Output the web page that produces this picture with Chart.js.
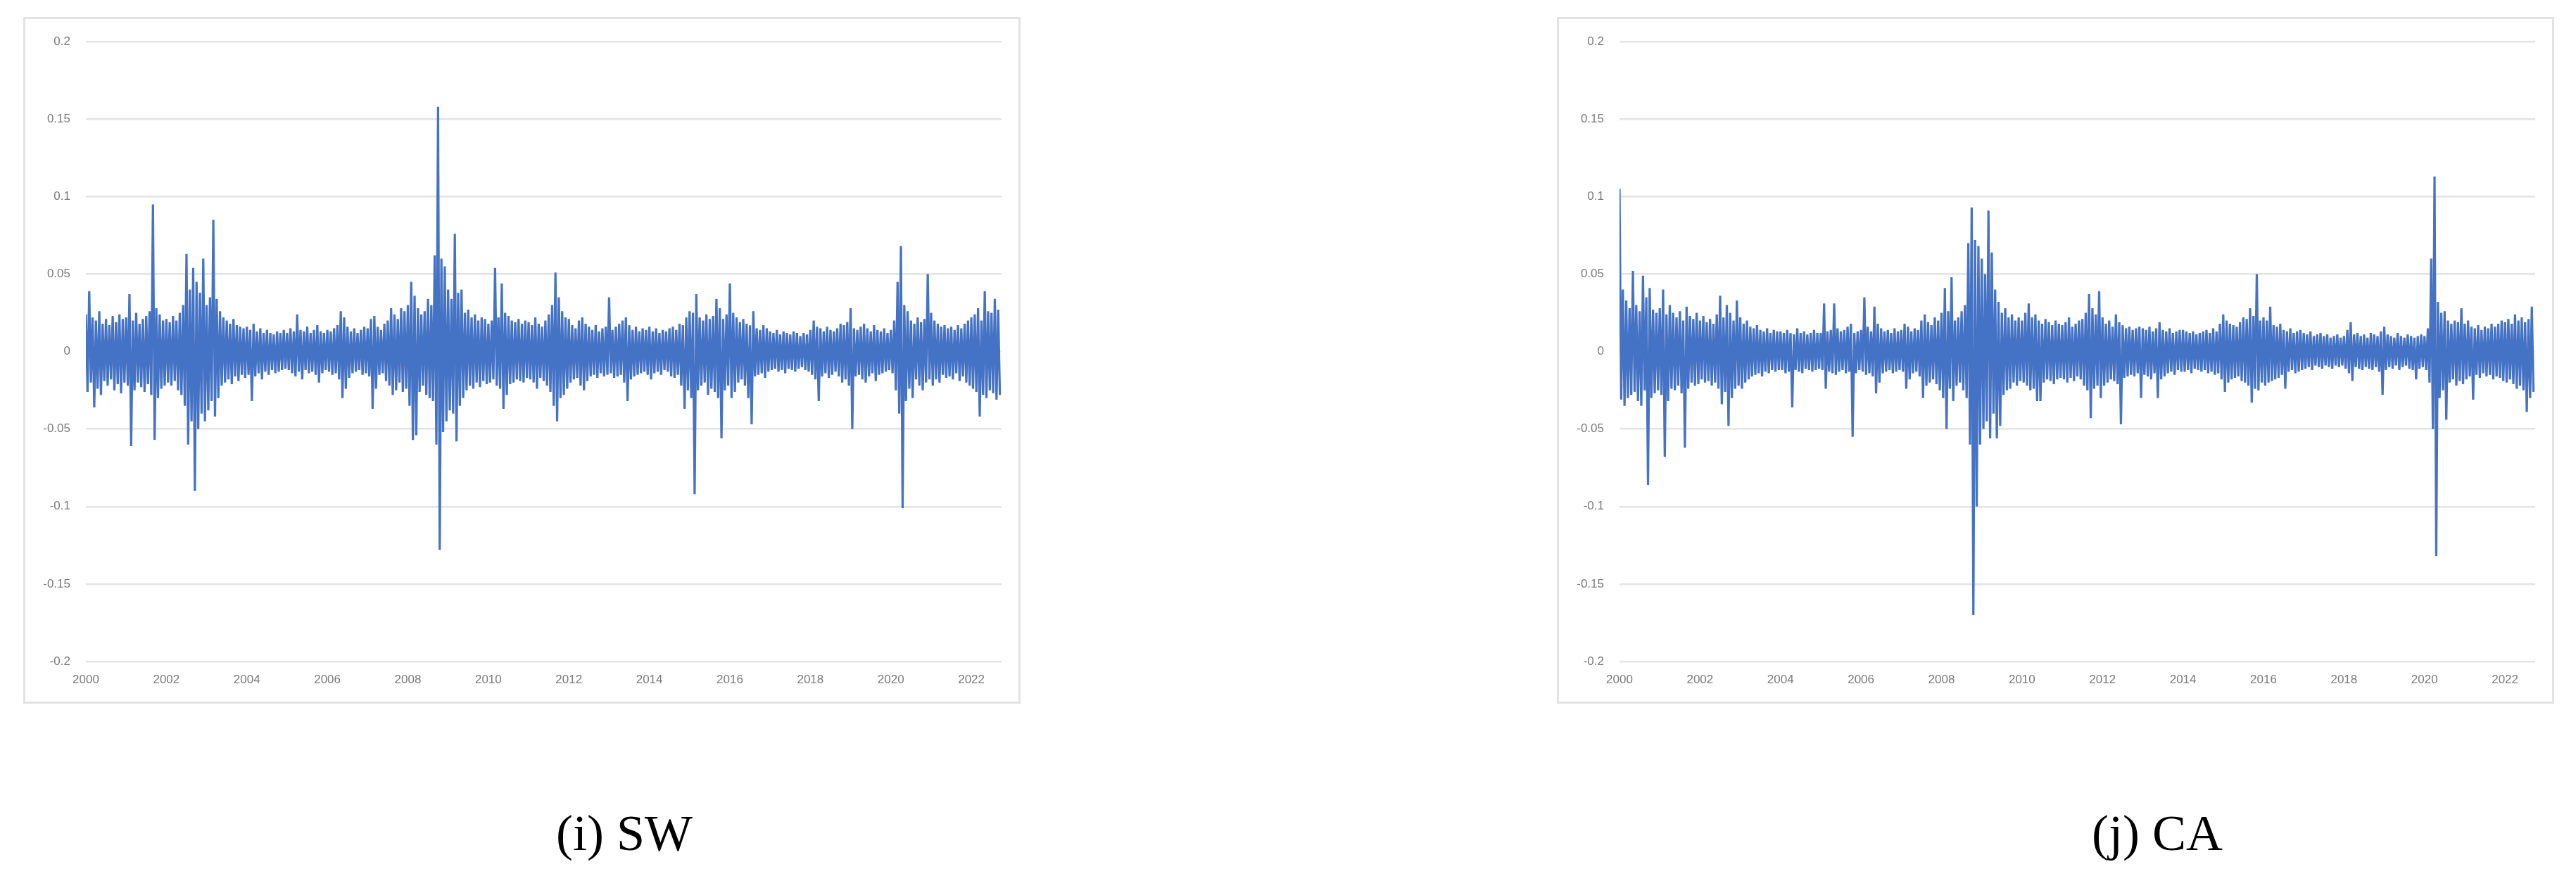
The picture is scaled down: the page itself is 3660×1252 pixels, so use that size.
<!DOCTYPE html>
<html>
<head>
<meta charset="utf-8">
<script src="https://cdn.jsdelivr.net/npm/chart.js"></script>
<style>
  body { margin: 0; background: #fff; width: 3660px; height: 1252px; position: relative; overflow: hidden; }
  .frame { position: absolute; top: 24px; width: 1417px; height: 976px; border: 3px solid #e3e3e3; box-sizing: border-box; background: #fff; }
  .caption { position: absolute; top: 1148px; width: 400px; text-align: center; font-family: "Liberation Serif", serif; font-size: 72px; line-height: 72px; color: #000; }
</style>
</head>
<body>
<div class="frame" style="left:33px"><canvas id="sw" width="1411" height="970"></canvas></div>
<div class="frame" style="left:2212px"><canvas id="ca" width="1411" height="970"></canvas></div>
<div class="caption" style="left:687px">(i) SW</div>
<div class="caption" style="left:2865px">(j) CA</div>
<script>
// monthly high / low of the daily series, Jan 2000 .. Sep 2022 (one row per year)
var swHigh = [
  0.024, 0.039, 0.022, 0.020, 0.026, 0.018, 0.021, 0.017, 0.023, 0.019, 0.024, 0.021,
  0.022, 0.037, 0.020, 0.025, 0.018, 0.021, 0.023, 0.026, 0.095, 0.028, 0.024, 0.020,
  0.021, 0.019, 0.023, 0.020, 0.025, 0.030, 0.063, 0.040, 0.054, 0.045, 0.038, 0.060,
  0.030, 0.035, 0.085, 0.034, 0.026, 0.022, 0.020, 0.018, 0.021, 0.017, 0.016, 0.015,
  0.016, 0.014, 0.018, 0.013, 0.015, 0.012, 0.014, 0.012, 0.011, 0.013, 0.012, 0.014,
  0.012, 0.015, 0.013, 0.024, 0.014, 0.013, 0.016, 0.012, 0.014, 0.017, 0.013, 0.012,
  0.014, 0.013, 0.015, 0.017, 0.026, 0.022, 0.016, 0.013, 0.015, 0.012, 0.014, 0.016,
  0.015, 0.021, 0.023, 0.016, 0.014, 0.018, 0.020, 0.028, 0.024, 0.021, 0.028, 0.026,
  0.030, 0.045, 0.036, 0.028, 0.024, 0.026, 0.034, 0.030, 0.062, 0.158, 0.060, 0.055,
  0.040, 0.034, 0.076, 0.038, 0.040, 0.025, 0.027, 0.022, 0.024, 0.020, 0.022, 0.021,
  0.018, 0.020, 0.054, 0.022, 0.044, 0.025, 0.023, 0.020, 0.019, 0.021, 0.018, 0.020,
  0.019, 0.017, 0.022, 0.018, 0.016, 0.020, 0.024, 0.030, 0.051, 0.035, 0.026, 0.022,
  0.021, 0.017, 0.015, 0.020, 0.022, 0.018, 0.016, 0.014, 0.017, 0.013, 0.015, 0.016,
  0.035, 0.014, 0.016, 0.018, 0.020, 0.022, 0.017, 0.014, 0.016, 0.013, 0.015, 0.014,
  0.016, 0.013, 0.015, 0.012, 0.014, 0.013, 0.015, 0.016, 0.014, 0.018, 0.017, 0.022,
  0.026, 0.025, 0.037, 0.022, 0.020, 0.024, 0.021, 0.023, 0.034, 0.028, 0.021, 0.024,
  0.044, 0.025, 0.022, 0.019, 0.021, 0.018, 0.017, 0.026, 0.015, 0.014, 0.017, 0.015,
  0.013, 0.012, 0.014, 0.011, 0.013, 0.012, 0.011, 0.013, 0.012, 0.010, 0.012, 0.011,
  0.014, 0.020, 0.016, 0.015, 0.013, 0.016, 0.014, 0.013, 0.015, 0.018, 0.017, 0.019,
  0.028, 0.015, 0.014, 0.016, 0.018, 0.015, 0.013, 0.017, 0.014, 0.013, 0.015, 0.012,
  0.014, 0.020, 0.045, 0.068, 0.030, 0.026, 0.020, 0.018, 0.022, 0.019, 0.021, 0.050,
  0.025, 0.020, 0.018, 0.016, 0.017, 0.015, 0.016, 0.014, 0.017, 0.015, 0.018, 0.020,
  0.022, 0.024, 0.028, 0.020, 0.039, 0.026, 0.025, 0.034, 0.027
];
var swLow = [
  -0.026, -0.020, -0.036, -0.024, -0.028, -0.019, -0.022, -0.018, -0.025, -0.021, -0.027, -0.020,
  -0.022, -0.061, -0.025, -0.020, -0.023, -0.026, -0.021, -0.028, -0.057, -0.030, -0.024, -0.022,
  -0.020, -0.022, -0.019, -0.025, -0.028, -0.035, -0.060, -0.045, -0.090, -0.050, -0.040, -0.045,
  -0.038, -0.032, -0.042, -0.030, -0.022, -0.020, -0.018, -0.021, -0.016, -0.019, -0.015, -0.017,
  -0.015, -0.032, -0.016, -0.014, -0.018, -0.013, -0.015, -0.012, -0.014, -0.013, -0.012, -0.011,
  -0.012, -0.014, -0.016, -0.013, -0.018, -0.012, -0.014, -0.013, -0.015, -0.020, -0.014, -0.012,
  -0.013, -0.015, -0.014, -0.018, -0.030, -0.024, -0.017, -0.014, -0.013, -0.012, -0.015, -0.014,
  -0.016, -0.037, -0.024, -0.015, -0.014, -0.019, -0.022, -0.028, -0.025, -0.020, -0.026, -0.024,
  -0.035, -0.057, -0.054, -0.026, -0.022, -0.028, -0.030, -0.032, -0.060, -0.128, -0.052, -0.045,
  -0.038, -0.040, -0.058, -0.035, -0.030, -0.025, -0.022, -0.024, -0.020, -0.023, -0.019, -0.021,
  -0.020, -0.018, -0.022, -0.024, -0.037, -0.028, -0.021, -0.020, -0.018, -0.019, -0.020, -0.017,
  -0.018, -0.020, -0.024, -0.017, -0.019, -0.022, -0.026, -0.035, -0.045, -0.030, -0.028, -0.024,
  -0.020, -0.018, -0.017, -0.022, -0.025, -0.019, -0.016, -0.015, -0.017, -0.014, -0.016, -0.015,
  -0.014, -0.017, -0.016, -0.015, -0.020, -0.032, -0.018, -0.016, -0.015, -0.014, -0.013, -0.015,
  -0.018, -0.014, -0.013, -0.015, -0.012, -0.013, -0.016, -0.017, -0.015, -0.022, -0.037, -0.025,
  -0.030, -0.092, -0.025, -0.022, -0.020, -0.028, -0.024, -0.026, -0.030, -0.056, -0.025, -0.022,
  -0.030, -0.026, -0.020, -0.018, -0.022, -0.030, -0.047, -0.016, -0.015, -0.014, -0.017, -0.013,
  -0.012, -0.011, -0.013, -0.012, -0.014, -0.011, -0.012, -0.013, -0.011, -0.010, -0.012, -0.013,
  -0.015, -0.018, -0.032, -0.016, -0.014, -0.017, -0.015, -0.013, -0.016, -0.020, -0.018, -0.022,
  -0.050, -0.016, -0.015, -0.018, -0.020, -0.016, -0.014, -0.019, -0.015, -0.014, -0.013, -0.012,
  -0.014, -0.025, -0.040, -0.101, -0.032, -0.024, -0.030, -0.018, -0.022, -0.025, -0.020, -0.018,
  -0.022, -0.018, -0.020, -0.015, -0.017, -0.016, -0.018, -0.014, -0.019, -0.016, -0.020, -0.022,
  -0.024, -0.026, -0.042, -0.028, -0.030, -0.025, -0.027, -0.031, -0.028
];
var caHigh = [
  0.105, 0.040, 0.033, 0.028, 0.052, 0.030, 0.026, 0.049, 0.035, 0.041, 0.027, 0.025,
  0.028, 0.040, 0.024, 0.030, 0.025, 0.022, 0.026, 0.020, 0.029, 0.023, 0.021, 0.025,
  0.020, 0.023, 0.019, 0.021, 0.018, 0.024, 0.036, 0.022, 0.030, 0.025, 0.020, 0.033,
  0.022, 0.018, 0.020, 0.016, 0.015, 0.017, 0.014, 0.013, 0.015, 0.012, 0.014, 0.013,
  0.013, 0.012, 0.014, 0.012, 0.011, 0.015, 0.012, 0.013, 0.011, 0.012, 0.014, 0.012,
  0.012, 0.031, 0.013, 0.014, 0.031, 0.015, 0.013, 0.014, 0.016, 0.018, 0.012, 0.013,
  0.014, 0.035, 0.016, 0.013, 0.029, 0.018, 0.015, 0.013, 0.014, 0.012, 0.015, 0.013,
  0.014, 0.018, 0.016, 0.013, 0.015, 0.014, 0.020, 0.024, 0.019, 0.017, 0.022, 0.020,
  0.025, 0.041, 0.026, 0.048, 0.020, 0.022, 0.026, 0.030, 0.070, 0.093, 0.072, 0.068,
  0.060, 0.050, 0.091, 0.064, 0.040, 0.032, 0.025, 0.028, 0.022, 0.024, 0.020, 0.022,
  0.020, 0.025, 0.031, 0.022, 0.024, 0.020, 0.018, 0.021, 0.019, 0.017, 0.020, 0.018,
  0.017, 0.019, 0.022, 0.016, 0.018, 0.020, 0.021, 0.025, 0.037, 0.028, 0.024, 0.039,
  0.022, 0.018, 0.020, 0.016, 0.024, 0.019, 0.017, 0.015, 0.016, 0.014, 0.015, 0.016,
  0.015, 0.014, 0.016, 0.013, 0.015, 0.019, 0.014, 0.013, 0.015, 0.012, 0.013, 0.014,
  0.014, 0.013, 0.012, 0.013, 0.011, 0.012, 0.013, 0.014, 0.012, 0.015, 0.013, 0.018,
  0.024, 0.020, 0.018, 0.017, 0.016, 0.019, 0.022, 0.021, 0.028, 0.023, 0.050, 0.020,
  0.022, 0.020, 0.029, 0.017, 0.016, 0.018, 0.014, 0.013, 0.015, 0.012, 0.013, 0.014,
  0.012, 0.011, 0.013, 0.010, 0.011, 0.012, 0.010, 0.011, 0.009, 0.010, 0.011, 0.009,
  0.010, 0.014, 0.019, 0.011, 0.012, 0.010, 0.011, 0.009, 0.012, 0.011, 0.010, 0.013,
  0.016, 0.011, 0.010, 0.009, 0.012, 0.010, 0.009, 0.011, 0.010, 0.009, 0.010, 0.011,
  0.010, 0.015, 0.060, 0.113, 0.032, 0.025, 0.026, 0.020, 0.018, 0.020, 0.019, 0.028,
  0.018, 0.020, 0.016, 0.015, 0.017, 0.014, 0.016, 0.015, 0.018, 0.016, 0.018, 0.020,
  0.019, 0.021, 0.018, 0.024, 0.020, 0.022, 0.019, 0.021, 0.029
];
var caLow = [
  -0.031, -0.035, -0.030, -0.028, -0.026, -0.032, -0.035, -0.025, -0.086, -0.030, -0.027, -0.025,
  -0.028, -0.068, -0.032, -0.024, -0.025, -0.022, -0.027, -0.062, -0.024, -0.020, -0.022, -0.021,
  -0.018, -0.020, -0.019, -0.022, -0.020, -0.024, -0.034, -0.026, -0.048, -0.030, -0.024, -0.022,
  -0.024, -0.020, -0.018, -0.016, -0.015, -0.014, -0.016, -0.013, -0.014, -0.012, -0.013, -0.012,
  -0.012, -0.014, -0.013, -0.036, -0.012, -0.013, -0.014, -0.011, -0.012, -0.013, -0.012, -0.011,
  -0.012, -0.024, -0.013, -0.014, -0.015, -0.013, -0.012, -0.014, -0.013, -0.055, -0.014, -0.012,
  -0.013, -0.015, -0.014, -0.016, -0.027, -0.020, -0.014, -0.013, -0.012, -0.014, -0.013, -0.012,
  -0.013, -0.024, -0.018, -0.014, -0.013, -0.016, -0.030, -0.022, -0.020, -0.018, -0.021, -0.025,
  -0.030, -0.050, -0.024, -0.032, -0.022, -0.020, -0.025, -0.030, -0.060, -0.170, -0.100, -0.060,
  -0.050, -0.045, -0.056, -0.040, -0.056, -0.048, -0.028, -0.025, -0.024, -0.020, -0.022, -0.019,
  -0.020, -0.022, -0.025, -0.024, -0.032, -0.032, -0.020, -0.018, -0.019, -0.021, -0.018, -0.017,
  -0.018, -0.020, -0.017, -0.019, -0.016, -0.018, -0.022, -0.025, -0.043, -0.024, -0.022, -0.030,
  -0.022, -0.020, -0.018, -0.019, -0.021, -0.047, -0.017, -0.016, -0.015, -0.016, -0.014, -0.030,
  -0.015, -0.016, -0.018, -0.014, -0.030, -0.018, -0.016, -0.014, -0.013, -0.015, -0.012, -0.013,
  -0.013, -0.012, -0.014, -0.011, -0.012, -0.013, -0.012, -0.014, -0.013, -0.015, -0.014, -0.018,
  -0.026, -0.020, -0.018, -0.017, -0.016, -0.019, -0.020, -0.022, -0.033, -0.024, -0.025, -0.020,
  -0.022, -0.020, -0.019, -0.018, -0.017, -0.015, -0.024, -0.013, -0.012, -0.014, -0.013, -0.012,
  -0.011, -0.010, -0.012, -0.009, -0.010, -0.011, -0.009, -0.010, -0.011, -0.009, -0.010, -0.009,
  -0.011, -0.014, -0.019, -0.010, -0.011, -0.012, -0.010, -0.011, -0.012, -0.010, -0.013, -0.028,
  -0.012, -0.010, -0.011, -0.009, -0.012, -0.010, -0.009, -0.011, -0.012, -0.018, -0.011, -0.010,
  -0.012, -0.020, -0.050, -0.132, -0.030, -0.025, -0.044, -0.020, -0.018, -0.022, -0.019, -0.021,
  -0.018, -0.016, -0.031, -0.015, -0.017, -0.014, -0.016, -0.015, -0.018, -0.016, -0.017, -0.019,
  -0.020, -0.018, -0.021, -0.024, -0.022, -0.025, -0.039, -0.030, -0.026
];
var yearTicks = [2000, 2002, 2004, 2006, 2008, 2010, 2012, 2014, 2016, 2018, 2020, 2022];
var valueTicks = [-0.2, -0.15, -0.1, -0.05, 0, 0.05, 0.1, 0.15, 0.2];
var startYear = 2000;

function zigzag(high, low) {
  var pts = [];
  for (var m = 0; m < high.length; m++) {
    pts.push({ x: startYear + m / 12, y: high[m] });
    pts.push({ x: startYear + (m + 0.5) / 12, y: low[m] });
  }
  return pts;
}

function plotChart(id, high, low) {
  var tickFont = { family: 'Liberation Sans', size: 17 };
  new Chart(document.getElementById(id).getContext('2d'), {
    type: 'line',
    data: {
      datasets: [{
        data: zigzag(high, low),
        borderColor: '#4472C4',
        borderWidth: 3.2,
        borderJoinStyle: 'miter',
        pointRadius: 0,
        tension: 0,
        fill: false
      }]
    },
    options: {
      responsive: false,
      animation: false,
      layout: { padding: { top: 26, right: 24, left: 0, bottom: 0 } },
      plugins: { legend: { display: false }, tooltip: { enabled: false } },
      scales: {
        x: {
          type: 'linear', min: 2000, max: 2022.75,
          afterBuildTicks: function (s) { s.ticks = yearTicks.map(function (v) { return { value: v }; }); },
          afterFit: function (s) { s.height = 57; },
          grid: { display: false, drawTicks: false },
          border: { display: false },
          ticks: { padding: 16, color: '#7a7a7a', font: tickFont, maxRotation: 0, autoSkip: false,
                   callback: function (v) { return String(v); } }
        },
        y: {
          min: -0.2, max: 0.2,
          afterBuildTicks: function (s) { s.ticks = valueTicks.map(function (v) { return { value: v }; }); },
          afterFit: function (s) { s.width = 86; },
          grid: { color: '#e3e3e3', lineWidth: 2.5, drawTicks: false },
          border: { display: false },
          ticks: { padding: 22, color: '#7a7a7a', font: tickFont,
                   callback: function (v) { return String(Math.round(v * 100) / 100); } }
        }
      }
    }
  });
}

plotChart('sw', swHigh, swLow);
plotChart('ca', caHigh, caLow);
</script>
</body>
</html>
